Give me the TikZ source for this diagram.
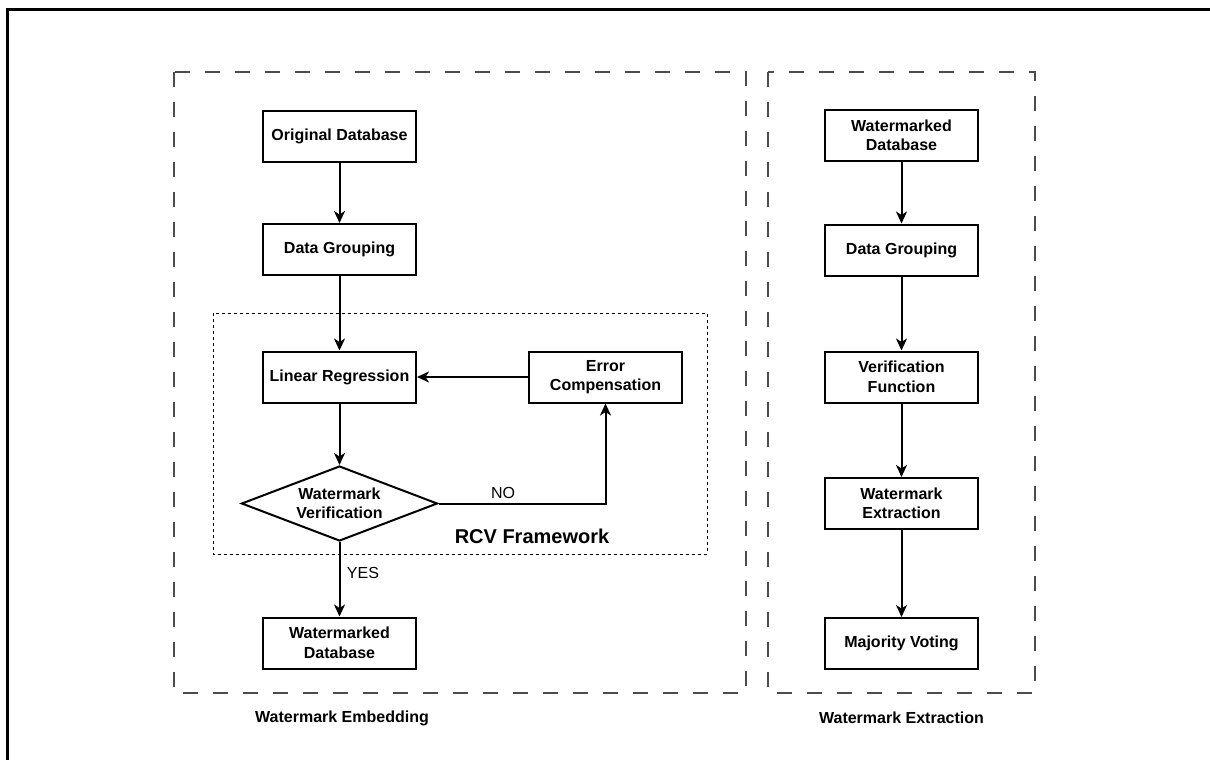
\documentclass[tikz,border=0pt]{standalone}
\usepackage{fontspec}
\setmainfont{Liberation Sans}
\usetikzlibrary{arrows.meta,shapes.geometric}
\begin{document}
\begin{tikzpicture}[x=1pt,y=-1pt,
  box/.style={draw, line width=2pt, minimum width=153pt, minimum height=51pt, inner sep=0pt, align=center, font=\bfseries\fontsize{16}{19.5}\selectfont},
  dbox/.style={shape=diamond, draw, line width=2pt, aspect=2.6, minimum width=196pt, minimum height=75pt, inner sep=0pt, align=center, font=\bfseries\fontsize{16}{19.5}\selectfont},
  arr/.style={line width=2pt, -{Stealth[length=12pt,width=11pt,inset=3.5pt]}},
  outerdash/.style={draw=black!70, line width=1.3pt, dash pattern=on 15pt off 15pt},
  innerdash/.style={draw=black, line width=1pt, dash pattern=on 3pt off 3pt},
  lbl/.style={font=\fontsize{16}{19}\selectfont},
  ttl/.style={font=\bfseries\fontsize{16}{19}\selectfont},
  rcv/.style={font=\bfseries\fontsize{20}{24}\selectfont}
]
\fill[white] (0,0) rectangle (1210,760);
\useasboundingbox (0,0) rectangle (1210,760);
\draw[line width=3pt] (7,10) rectangle (1225,775);

% containers
\draw[outerdash] (174,72) rectangle (746,693);
\draw[outerdash] (768,72) rectangle (1035,693);
\draw[innerdash] (213,313) rectangle (707,554);

% embedding
\node[box] (od) at (339.5,136) {Original Database};
\node[box] (dg) at (339.5,249.5) {Data Grouping};
\node[box] (lr) at (339.5,377) {Linear Regression};
\node[box] (ec) at (605.5,377) {Error\\Compensation};
\node[dbox] (wv) at (339.5,503.5) {Watermark\\Verification};
\node[box] (wd) at (339.5,643) {Watermarked\\Database};

\draw[arr] (od) -- (dg);
\draw[arr] (dg) -- (lr);
\draw[arr] (lr) -- (wv);
\draw[arr] (wv.east) -| (ec.south);
\draw[arr] (ec) -- (lr);
\draw[arr] (wv) -- (wd);

\node[lbl] (no) at (503,493) {NO};
\node[lbl] (yes) at (363,573) {YES};
\node[rcv] (rcvl) at (532,536) {RCV Framework};

% extraction
\node[box] (xwd) at (901.5,135.5) {Watermarked\\Database};
\node[box] (xdg) at (901.5,250) {Data Grouping};
\node[box] (xvf) at (901.5,377) {Verification\\Function};
\node[box] (xwe) at (901.5,503.5) {Watermark\\Extraction};
\node[box] (xmv) at (901.5,643.5) {Majority Voting};

\draw[arr] (xwd) -- (xdg);
\draw[arr] (xdg) -- (xvf);
\draw[arr] (xvf) -- (xwe);
\draw[arr] (xwe) -- (xmv);

\node[ttl] (t1) at (342,718) {Watermark Embedding};
\node[ttl] (t2) at (901.5,718) {Watermark Extraction};
\end{tikzpicture}
\end{document}
